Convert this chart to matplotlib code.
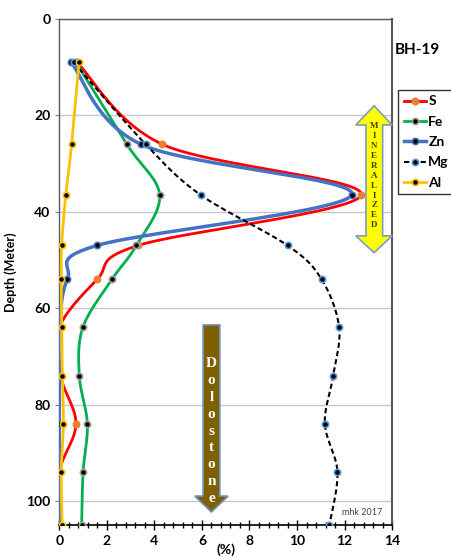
import numpy as np
import matplotlib
matplotlib.use("Agg")
import matplotlib.pyplot as plt
from matplotlib.patches import Polygon
from matplotlib.lines import Line2D

plt.rcParams['font.family'] = ['Lato', 'DejaVu Sans']

# sample depths (m) and element contents (%)
depth = [9, 26, 36.5, 47, 54, 64, 74, 84, 94, 105]
s_pct = [0.75, 4.33, 12.7, 3.31, 1.6, 0.0, 0.05, 0.7, 0.0, 0.0]
fe_pct = [0.7, 2.84, 4.22, 3.24, 2.22, 0.99, 0.84, 1.18, 1.0, 0.94]
zn_pct = [0.5, 3.43, 12.3, 1.58, 0.34, 0.0, 0.0, 0.0, 0.0, 0.0]
mg_pct = [0.6, 3.63, 5.94, 9.6, 11.03, 11.77, 11.52, 11.17, 11.7, 11.36]
al_pct = [0.83, 0.52, 0.27, 0.1, 0.08, 0.1, 0.13, 0.17, 0.08, 0.12]

x_ticks = [0, 2, 4, 6, 8, 10, 12, 14]
y_ticks = [0, 20, 40, 60, 80, 100]


def smooth(xs, ys, n=30):
    # bezier smoothing through every point, like a spreadsheet "smoothed line"
    p = np.column_stack([xs, ys]).astype(float)
    p = np.vstack([p[0], p, p[-1]])
    out = []
    t = np.linspace(0, 1, n)[:, None]
    for i in range(1, len(p) - 2):
        p0, p1 = p[i], p[i + 1]
        c1 = p0 + (p[i + 1] - p[i - 1]) / 6
        c2 = p1 - (p[i + 2] - p[i]) / 6
        seg = (1 - t) ** 3 * p0 + 3 * (1 - t) ** 2 * t * c1 + 3 * (1 - t) * t ** 2 * c2 + t ** 3 * p1
        out.append(seg)
    out = np.vstack(out)
    return out[:, 0], out[:, 1]


fig = plt.figure(figsize=(4.51, 5.57), dpi=100)
ax = fig.add_axes([0.1315, 0.0575, 0.738, 0.9084])

series = [
    ("S", s_pct, "#FF0000", "-", 2.0, "#ED7D31", "#ED7D31"),
    ("Fe", fe_pct, "#00B050", "-", 2.0, "black", "#A0A0A0"),
    ("Zn", zn_pct, "#4472C4", "-", 2.5, "black", "#4472C4"),
    ("Mg", mg_pct, "black", (0, (2.5, 1.5)), 1.5, "black", "#5B9BD5"),
    ("Al", al_pct, "#FFC000", "-", 2.0, "black", "#FFC000"),
]

handles = []
for name, vals, col, ls, lw, mfc, mec in series:
    sx, sy = smooth(vals, depth)
    ax.plot(sx, sy, color=col, ls=ls, lw=lw, zorder=3)
    ax.plot(vals, depth, ls="none", marker="o", ms=4.5, mfc=mfc, mec=mec, mew=1.2, zorder=4)
    handles.append(Line2D([], [], color=col, ls=ls, lw=lw, marker="o", ms=4.5,
                          mfc=mfc, mec=mec, mew=1.2))

ax.set_xlim(0, 14)
ax.set_ylim(105, 0)
ax.set_xticks(x_ticks)
ax.set_yticks(y_ticks)
ax.set_xticks(np.arange(0, 14.01, 0.4), minor=True)
ax.tick_params(axis="x", which="major", direction="inout", length=7, width=1, labelsize=10)
ax.tick_params(axis="x", which="minor", direction="inout", length=4, width=1)
ax.tick_params(axis="y", which="major", direction="out", length=3, width=0.8, labelsize=10,
               color="#808080")
for lab in ax.get_xticklabels() + ax.get_yticklabels():
    lab.set_fontweight("bold")
ax.grid(axis="y", color="#C8C8C8", lw=1)
ax.set_axisbelow(True)

for side in ["left", "top", "right"]:
    ax.spines[side].set_color("#595959")
    ax.spines[side].set_linewidth(1)
ax.spines["right"].set_linewidth(1.5)
ax.spines["bottom"].set_color("black")
ax.spines["bottom"].set_linewidth(1.2)

ax.set_ylabel("Depth (Meter)", fontsize=9, fontweight="bold")
ax.yaxis.set_label_coords(-0.127, 0.5)
ax.set_xlabel("(%)", fontsize=10, fontweight="bold")
ax.xaxis.set_label_coords(0.5, -0.036)

# mineralized zone arrow (double headed)
yel = Polygon([(13.24, 18), (14.0, 22), (13.6, 22), (13.6, 45), (14.0, 45), (13.24, 48.5),
               (12.47, 45), (12.9, 45), (12.9, 22), (12.47, 22)],
              closed=True, fc="#FFFF00", ec="#7E9BC0", lw=1.2, zorder=5, clip_on=False)
ax.add_patch(yel)
for i, ch in enumerate("MINERALIZED"):
    ax.text(13.25, 22.3 + i * 2.05, ch, ha="center", va="center", fontsize=6.5,
            fontweight="bold", family="Liberation Serif", color="#404000", zorder=6)

# dolostone arrow
dol = Polygon([(6.05, 63.5), (6.75, 63.5), (6.75, 99), (7.1, 99), (6.4, 102.3),
               (5.7, 99), (6.05, 99)],
              closed=True, fc="#7F6000", ec="#6D8FB8", lw=1.2, zorder=5)
ax.add_patch(dol)
for i, ch in enumerate("Dolostone"):
    ax.text(6.4, 71.5 + i * 3.5, ch, ha="center", va="center", fontsize=11,
            fontweight="bold", family="Liberation Serif", color="white", zorder=6)

ax.text(13.6, 103.3, "mhk 2017", ha="right", va="bottom", fontsize=6.5, color="#404040")

fig.text(0.876, 0.91, "BH-19", ha="left", va="center", fontsize=11, fontweight="bold")

leg = fig.legend(handles, [s[0] for s in series], loc="upper left",
                 bbox_to_anchor=(0.868, 0.851), frameon=True, fancybox=False,
                 prop={"weight": "bold", "size": 10}, handlelength=1.6,
                 handletextpad=0.15, labelspacing=0.6, borderpad=0.4)
leg.get_frame().set_edgecolor("black")
leg.get_frame().set_linewidth(1)

fig.savefig("out.png", dpi=100)
